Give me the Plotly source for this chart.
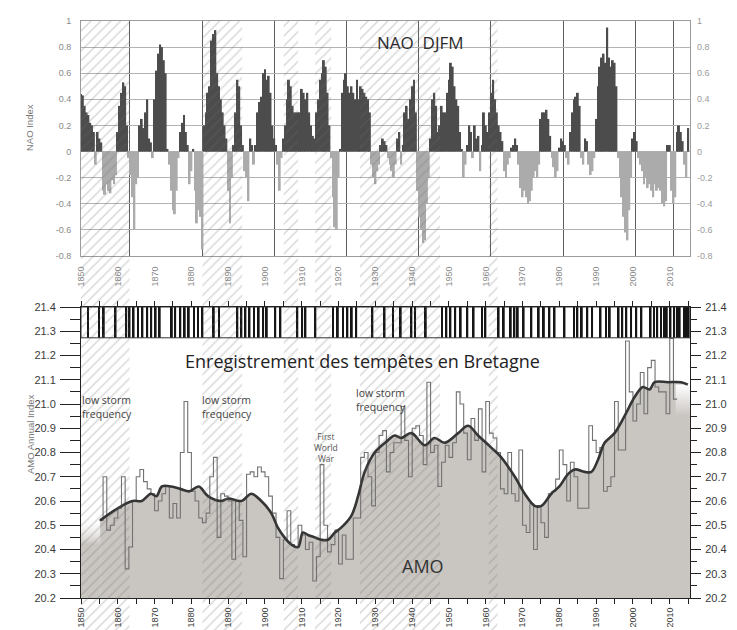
import numpy as np
import plotly.graph_objects as go

# ---------------- data ----------------
# NAO DJFM index, half-year resolution, 1850.0 .. 2015.0
nao_first_year = 1850.0
nao_step = 0.5
nao_values = [
    0.44, 0.43, 0.35, 0.30, 0.28, 0.22, 0.20, 0.15, -0.10, 0.15, 0.10, 0.07, -0.30, -0.33, -0.25, -0.30, -0.32, -0.22, -0.25, -0.18,
    0.15, 0.35, 0.45, 0.53, 0.50, 0.20, -0.05, -0.18, -0.35, -0.60, -0.25, -0.20, 0.20, 0.25, 0.18, 0.30, 0.40, 0.10, 0.07, -0.05,
    0.40, 0.62, 0.75, 0.82, 0.80, 0.70, 0.60, 0.02, -0.10, -0.30, -0.45, -0.48, -0.30, -0.05, 0.15, 0.22, 0.28, 0.15, 0.05, -0.25,
    -0.15, 0.02, -0.30, -0.55, -0.45, -0.50, -0.75, 0.20, 0.30, 0.45, 0.50, 0.85, 0.90, 0.93, 0.60, 0.50, 0.40, 0.30, 0.20, 0.10,
    -0.30, -0.55, -0.20, 0.05, 0.30, 0.55, 0.50, 0.20, 0.05, -0.15, -0.20, -0.38, 0.10, 0.05, -0.10, 0.05, 0.30, 0.38, 0.42, 0.60,
    0.63, 0.55, 0.58, 0.45, 0.20, 0.10, 0.05, -0.10, -0.30, -0.05, 0.10, 0.20, 0.40, 0.55, 0.50, 0.35, 0.30, 0.30, 0.30, 0.30,
    0.48, 0.45, 0.40, 0.45, 0.30, 0.20, 0.12, 0.10, 0.30, 0.40, 0.55, 0.60, 0.70, 0.65, 0.45, 0.20, -0.05, -0.35, -0.58, -0.60,
    -0.20, 0.02, 0.45, 0.55, 0.60, 0.50, 0.45, 0.50, 0.45, 0.40, 0.55, 0.40, 0.50, 0.48, 0.45, 0.42, 0.40, 0.30, -0.10, -0.20,
    -0.25, -0.15, -0.10, 0.05, 0.10, 0.08, 0.05, -0.05, -0.10, -0.15, -0.20, -0.10, 0.10, 0.15, -0.10, 0.05, 0.30, 0.35, 0.25, 0.40,
    0.50, 0.55, 0.30, -0.30, -0.50, -0.60, -0.70, -0.68, -0.40, -0.20, 0.10, 0.40, 0.45, 0.35, 0.15, 0.20, 0.35, 0.30, 0.30, 0.45,
    0.55, 0.68, 0.65, 0.50, 0.40, 0.35, 0.15, 0.02, -0.20, -0.10, 0.05, 0.20, 0.15, -0.05, 0.20, 0.10, 0.12, -0.15, 0.05, 0.30,
    0.20, 0.15, 0.30, 0.45, 0.55, 0.40, 0.30, 0.20, 0.15, 0.08, -0.15, -0.20, -0.10, -0.05, 0.03, 0.05, 0.10, 0.05, -0.10, -0.28,
    -0.35, -0.30, -0.35, -0.40, -0.38, -0.30, -0.20, -0.15, -0.20, -0.10, 0.25, 0.30, 0.30, 0.32, 0.25, 0.12, -0.05, -0.12, -0.20, -0.15,
    0.03, 0.10, 0.08, 0.05, -0.05, -0.10, 0.15, 0.30, 0.40, 0.42, 0.45, 0.35, -0.05, -0.10, 0.10, 0.08, -0.10, -0.18, -0.15, -0.05,
    0.25, 0.50, 0.65, 0.72, 0.75, 0.68, 0.95, 0.72, 0.65, 0.70, 0.68, 0.50, -0.05, -0.20, -0.35, -0.50, -0.62, -0.68, -0.45, -0.20,
    0.10, 0.15, 0.08, -0.05, -0.10, -0.15, -0.25, -0.20, -0.28, -0.25, -0.30, -0.35, -0.25, -0.30, -0.28, -0.30, -0.40, -0.42, -0.38, 0.05,
    0.05, -0.30, -0.40, -0.35, 0.15, 0.20, 0.15, 0.08, -0.10, -0.20, 0.18,
]
nao_grid_years = [1863.3, 1882.9, 1902.7, 1922.1, 1941.8, 1961.4, 1981.2, 2000.8, 2010.9]
nao_ticks = [-0.8, -0.6, -0.4, -0.2, 0, 0.2, 0.4, 0.6, 0.8, 1]
nao_ticktext = ["-0.8", "-0.6", "-0.4", "-0.2", "0", "0.2", "0.4", "0.6", "0.8", "1"]

decade_ticks = [1850, 1860, 1870, 1880, 1890, 1900, 1910, 1920, 1930, 1940,
                1950, 1960, 1970, 1980, 1990, 2000, 2010]

# AMO annual index, 1855 .. 2011
amo_first_year = 1855
amo_values = [
    20.52, 20.70, 20.48, 20.50, 20.53, 20.57, 20.70, 20.32, 20.41, 20.60,
    20.70, 20.73, 20.68, 20.65, 20.63, 20.56, 20.60, 20.63, 20.66, 20.53,
    20.59, 20.53, 20.80, 21.01, 20.80, 20.64, 20.60, 20.53, 20.51, 20.55,
    20.70, 20.78, 20.45, 20.63, 20.62, 20.60, 20.36, 20.60, 20.52, 20.37,
    20.71, 20.72, 20.70, 20.74, 20.72, 20.70, 20.62, 20.55, 20.45, 20.28,
    20.44, 20.56, 20.42, 20.41, 20.50, 20.46, 20.40, 20.43, 20.27, 20.37,
    20.75, 20.50, 20.39, 20.42, 20.48, 20.34, 20.46, 20.36, 20.36, 20.53,
    20.53, 20.78, 20.80, 20.70, 20.58, 20.80, 20.87, 20.89, 20.72, 20.80,
    20.84, 20.84, 20.99, 20.85, 20.70, 20.90, 20.91, 20.87, 20.75, 21.09,
    20.80, 20.83, 20.66, 20.76, 20.83, 20.78, 20.84, 21.05, 21.00, 20.88,
    20.77, 20.94, 20.85, 20.98, 20.72, 21.01, 20.88, 20.86, 20.80, 20.65,
    20.63, 20.80, 20.63, 20.60, 20.81, 20.50, 20.47, 20.59, 20.40, 20.58,
    20.51, 20.45, 20.63, 20.64, 20.69, 20.81, 20.75, 20.60, 20.76, 20.70,
    20.57, 20.57, 20.57, 20.91, 20.85, 20.80, 20.82, 20.64, 20.66, 20.70,
    21.01, 20.81, 20.81, 21.26, 21.05, 20.93, 21.00, 21.13, 20.96, 21.15,
    21.18, 21.07, 21.05, 21.05, 20.96, 21.27, 21.02,
]
amo_smooth_years = [
    1855.2, 1860.0, 1864.0, 1866.5, 1869.0, 1870.5, 1872.0, 1874.5, 1877.0, 1879.5,
    1882.0, 1884.5, 1888.0, 1890.0, 1893.6, 1896.3, 1899.0, 1901.7, 1903.5, 1905.3,
    1907.2, 1909.0, 1910.3, 1911.7, 1913.5, 1915.3, 1917.1, 1919.0, 1920.7, 1923.5,
    1925.3, 1927.1, 1929.8, 1933.4, 1935.2, 1937.0, 1939.8, 1943.4, 1946.1, 1948.8,
    1952.5, 1955.2, 1957.9, 1961.5, 1964.2, 1967.9, 1970.6, 1973.3, 1975.1, 1977.8,
    1980.0, 1982.3, 1984.2, 1986.9, 1988.7, 1990.5, 1992.3, 1995.0, 1997.7, 2000.5,
    2002.7, 2004.5, 2005.9, 2009.5, 2013.1, 2014.9,
]
amo_smooth_values = [
    20.52, 20.57, 20.60, 20.60, 20.63, 20.62, 20.66, 20.66, 20.65, 20.64,
    20.66, 20.62, 20.60, 20.61, 20.60, 20.63, 20.60, 20.55, 20.49, 20.45,
    20.42, 20.41, 20.47, 20.46, 20.45, 20.44, 20.44, 20.47, 20.49, 20.54,
    20.62, 20.72, 20.80, 20.85, 20.87, 20.86, 20.88, 20.83, 20.86, 20.84,
    20.88, 20.91, 20.87, 20.82, 20.78, 20.70, 20.63, 20.58, 20.58, 20.63,
    20.66, 20.71, 20.73, 20.72, 20.72, 20.77, 20.84, 20.88, 20.95, 21.03,
    21.07, 21.06, 21.09, 21.09, 21.09, 21.08,
]
amo_ticks = [20.2, 20.3, 20.4, 20.5, 20.6, 20.7, 20.8, 20.9, 21.0, 21.1, 21.2, 21.3, 21.4]
amo_ticktext = ["20.2", "20.3", "20.4", "20.5", "20.6", "20.7", "20.8", "20.9",
                "21.0", "21.1", "21.2", "21.3", "21.4"]

# storm records in Brittany (barcode)
storm_years = [
    1851.9, 1854.9, 1856.2, 1859.4, 1862.3, 1863.2, 1864.3, 1865.5, 1866.7, 1868.0,
    1869.1, 1870.3, 1871.4, 1874.7, 1875.6, 1877.0, 1878.2, 1879.3, 1880.7, 1881.8,
    1883.0, 1886.1, 1887.5, 1892.5, 1893.6, 1894.7, 1895.8, 1897.0, 1898.3, 1899.5,
    1900.5, 1902.8, 1904.2, 1908.8, 1910.1, 1911.0, 1913.7, 1918.5, 1919.8, 1921.2,
    1922.4, 1923.6, 1924.8, 1929.2, 1932.5, 1934.8, 1936.9, 1939.8, 1940.8, 1943.7,
    1948.1, 1949.3, 1950.4, 1951.7, 1953.2, 1955.0, 1956.7, 1959.0, 1959.9, 1963.5,
    1964.9, 1966.8, 1967.8, 1968.7, 1970.3, 1972.4, 1974.4, 1975.8, 1977.3, 1978.7,
    1981.4, 1984.0, 1984.9, 1986.1, 1987.6, 1988.9, 1991.2, 1992.7, 1993.7, 1996.1,
    1997.1, 1998.2, 1999.5, 2000.9, 2002.3, 2004.8, 2005.7, 2006.6, 2007.6, 2008.5,
    2009.2, 2010.2, 2011.2, 2012.1, 2012.7, 2014.1, 2014.6, 2015.1,
]
barcode_bottom = 21.273
barcode_top = 21.4

# low storm frequency periods (hatched)
low_storm_start = [1850.0, 1883.0, 1905.1, 1913.6, 1925.8, 1960.8]
low_storm_end = [1863.2, 1893.8, 1909.0, 1918.0, 1947.6, 1963.2]

# ---------------- geometry / style ----------------
W, H = 737, 630
ML, MR, MT, MB = 73, 55, 13, 0
PW, PH = W - ML - MR, H - MT - MB
X_RANGE = [1850, 2015.5]


def px_x(p):
    return (p - ML) / PW


def px_y(p):
    return (H - MB - p) / PH


GREY_FILL = "#c9c5c1"
NARROW = "Liberation Sans Narrow, Arial Narrow, Liberation Sans, sans-serif"
SANS = "Liberation Sans, Arial, sans-serif"
TITLE_FONT = "Open Sans, Noto Sans, sans-serif"

fig = go.Figure()

# ---- top panel: NAO bars ----
nao_years = nao_first_year + nao_step * np.arange(len(nao_values))
nao_colors = ["#4c4c4c" if v >= 0 else "#ababab" for v in nao_values]
fig.add_trace(go.Bar(
    x=nao_years, y=nao_values, width=nao_step * 1.06,
    marker=dict(color=nao_colors, line=dict(width=0)),
    xaxis="x", yaxis="y", hoverinfo="skip"))
fig.add_trace(go.Scatter(x=[X_RANGE[0]], y=[0], xaxis="x", yaxis="y2", mode="markers",
                         marker=dict(opacity=0), hoverinfo="skip"))

# ---- bottom panel: AMO ----
amo_years = amo_first_year + np.arange(len(amo_values))
amo_arr = np.array(amo_values)
sm_y = np.array(amo_smooth_years)
sm_v = np.array(amo_smooth_values)

# grey area under smoothed curve
fig.add_trace(go.Scatter(x=sm_y, y=sm_v, mode="lines", line=dict(width=0),
                         fill="tozeroy", fillcolor=GREY_FILL,
                         xaxis="x2", yaxis="y3", hoverinfo="skip"))
# faded ends
fig.add_trace(go.Scatter(x=[X_RANGE[0], sm_y[0]], y=[sm_v[0] + 0.01] * 2, mode="lines",
                         line=dict(width=0), fill="tozeroy",
                         fillgradient=dict(type="vertical",
                                           colorscale=[[0, GREY_FILL], [1, "rgba(255,255,255,0)"]],
                                           start=20.42, stop=20.54),
                         xaxis="x2", yaxis="y3", hoverinfo="skip"))
fig.add_trace(go.Scatter(x=[2011.6, X_RANGE[1]], y=[sm_v[-1]] * 2, mode="lines",
                         line=dict(width=0), fill="tozeroy",
                         fillgradient=dict(type="vertical",
                                           colorscale=[[0, GREY_FILL], [1, "#ffffff"]],
                                           start=20.95, stop=21.08),
                         xaxis="x2", yaxis="y3", hoverinfo="skip"))

# white gaps where the annual value lies below the smoothed curve
centers = amo_years + 0.5
sm_at = np.interp(centers, sm_y, sm_v)
mask = amo_arr < sm_at
fig.add_trace(go.Bar(x=centers[mask], y=(sm_at - amo_arr)[mask], base=amo_arr[mask], width=1.0,
                     marker=dict(color="white", line=dict(width=0)),
                     xaxis="x2", yaxis="y3", hoverinfo="skip"))

# annual step outline
step_x = list(amo_years) + [amo_years[-1] + 1]
step_y = list(amo_values) + [amo_values[-1]]
fig.add_trace(go.Scatter(x=step_x, y=step_y, mode="lines", line=dict(shape="hv", color="#727272", width=1.1),
                         xaxis="x2", yaxis="y3", hoverinfo="skip"))
# smoothed line
fig.add_trace(go.Scatter(x=sm_y, y=sm_v, mode="lines", line=dict(color="#353535", width=2.6, shape="spline"),
                         xaxis="x2", yaxis="y3", hoverinfo="skip"))

# storm barcode
fig.add_trace(go.Bar(x=storm_years, y=[barcode_top - barcode_bottom] * len(storm_years),
                     base=barcode_bottom, width=0.5,
                     marker=dict(color="#151515", line=dict(width=0)),
                     xaxis="x2", yaxis="y3", hoverinfo="skip"))
fig.add_trace(go.Scatter(x=[X_RANGE[0]], y=[20.2], xaxis="x2", yaxis="y4", mode="markers",
                         marker=dict(opacity=0), hoverinfo="skip"))

# ---- hatched low-storm periods, over the whole figure ----
hs = np.array(low_storm_start)
he = np.array(low_storm_end)
fig.add_trace(go.Bar(x=(hs + he) / 2, y=[1] * len(hs), base=0, width=he - hs,
                     marker=dict(color="rgba(0,0,0,0)", line=dict(width=0),
                                 pattern=dict(shape="/", fgcolor="rgba(105,105,105,0.55)",
                                              bgcolor="rgba(0,0,0,0)", size=7, solidity=0.2,
                                              fillmode="overlay")),
                     xaxis="x3", yaxis="y5", hoverinfo="skip"))

fig.add_shape(type="rect", xref="x2", yref="y3", x0=X_RANGE[0], x1=X_RANGE[1],
              y0=barcode_bottom, y1=barcode_top, line=dict(color="#333", width=1),
              fillcolor="rgba(0,0,0,0)")

# ---- annotations ----
ann = []
ann.append(dict(text="NAO  DJFM", x=px_x(412), y=px_y(34), font=dict(size=17, color="#2b2b2b", family=TITLE_FONT)))
ann.append(dict(text="Enregistrement des tempêtes en Bretagne", x=px_x(354), y=px_y(353),
                font=dict(size=18, color="#222", family=TITLE_FONT)))
for xp, yp in [(72, 399), (192, 399), (346, 392)]:
    ann.append(dict(text="low storm<br>frequency", x=px_x(xp), y=px_y(yp), xanchor="left", align="left",
                    font=dict(size=10.5, color="#444", family=TITLE_FONT)))
ann.append(dict(text="First<br>World<br>War", x=px_x(318), y=px_y(439),
                font=dict(size=8.5, color="#555", family=TITLE_FONT)))
ann.append(dict(text="AMO", x=px_x(415), y=px_y(558), font=dict(size=18, color="#333", family=TITLE_FONT)))
ann.append(dict(text="NAO Index", x=px_x(22), y=px_y(120), textangle=-90,
                font=dict(size=9.5, color="#777", family=SANS)))
ann.append(dict(text="AMO Annual Index", x=px_x(22), y=px_y(427), textangle=-90,
                font=dict(size=9.5, color="#777", family=SANS)))
for a in ann:
    a.setdefault("xanchor", "center")
    a.update(xref="paper", yref="paper", yanchor="middle", showarrow=False)

grey_tick = dict(size=9, color="#8a8a8a", family=SANS)
dark_tick = dict(size=11, color="#3a3a3a", family=NARROW)
dark_xtick = dict(size=9, color="#3a3a3a", family=SANS)

fig.update_layout(
    width=W, height=H, margin=dict(l=ML, r=MR, t=MT, b=MB),
    paper_bgcolor="white", plot_bgcolor="rgba(0,0,0,0)",
    barmode="overlay", showlegend=False, hovermode=False,
    annotations=ann,
    xaxis=dict(domain=[0, 1], anchor="y", range=X_RANGE, tickmode="array", tickvals=decade_ticks,
               ticktext=[str(t) for t in decade_ticks], tickangle=-90, tickfont=grey_tick,
               ticks="", ticklabelstandoff=6, showgrid=False, zeroline=False,
               showline=True, linecolor="#9c9c9c", linewidth=1, mirror=True, automargin=False,
               minor=dict(tickmode="array", tickvals=nao_grid_years, showgrid=True,
                          gridcolor="#5e5e5e", gridwidth=1, ticks="")),
    yaxis=dict(domain=[px_y(248), px_y(13)], anchor="x", range=[-0.8, 1], tickmode="array",
               tickvals=nao_ticks, ticktext=nao_ticktext, tickfont=grey_tick, ticks="",
               ticklabelstandoff=7, showgrid=True, gridcolor="#b3b3b3", gridwidth=1, zeroline=False,
               showline=True, linecolor="#9c9c9c", mirror=True, automargin=False),
    yaxis2=dict(overlaying="y", anchor="x", side="right", range=[-0.8, 1], tickmode="array",
                tickvals=nao_ticks, ticktext=nao_ticktext, tickfont=dict(size=9, color="#9a9a9a", family=SANS),
                ticks="", ticklabelstandoff=6, showgrid=False, zeroline=False, showline=False,
                automargin=False),
    xaxis2=dict(domain=[0, 1], anchor="y3", range=X_RANGE, tickmode="array", tickvals=decade_ticks,
                ticktext=[str(t) for t in decade_ticks], tickangle=-90, tickfont=dark_xtick,
                ticks="outside", ticklen=5, tickwidth=1, tickcolor="#222", ticklabelstandoff=0,
                showgrid=False, zeroline=False,
                showline=True, linecolor="#222", linewidth=1, mirror="allticks", automargin=False,
                minor=dict(tickmode="linear", tick0=1855, dtick=10, ticks="outside", ticklen=4,
                           tickcolor="#222", showgrid=False)),
    yaxis3=dict(domain=[px_y(590), px_y(299)], anchor="x2", range=[20.2, 21.4], tickmode="array",
                tickvals=amo_ticks, ticktext=amo_ticktext, tickfont=dark_tick,
                ticks="outside", ticklen=20, tickwidth=1, tickcolor="#222", ticklabelstandoff=2,
                showgrid=False, zeroline=False, showline=True, linecolor="#222", automargin=False,
                minor=dict(tickmode="linear", tick0=20.25, dtick=0.1, ticks="outside", ticklen=10,
                           tickcolor="#222", showgrid=False)),
    yaxis4=dict(overlaying="y3", anchor="x2", side="right", range=[20.2, 21.4], tickmode="array",
                tickvals=amo_ticks, ticktext=amo_ticktext, tickfont=dark_tick,
                ticks="outside", ticklen=10, tickwidth=1, tickcolor="#222", ticklabelstandoff=2,
                showgrid=False, zeroline=False, showline=True, linecolor="#222", automargin=False,
                minor=dict(tickmode="linear", tick0=20.25, dtick=0.1, ticks="outside", ticklen=6,
                           tickcolor="#222", showgrid=False)),
    xaxis3=dict(domain=[0, 1], anchor="y5", range=X_RANGE, visible=False, fixedrange=True),
    yaxis5=dict(domain=[0, 1], anchor="x3", range=[0, 1], visible=False, fixedrange=True),
)

fig.write_html("out.html")
